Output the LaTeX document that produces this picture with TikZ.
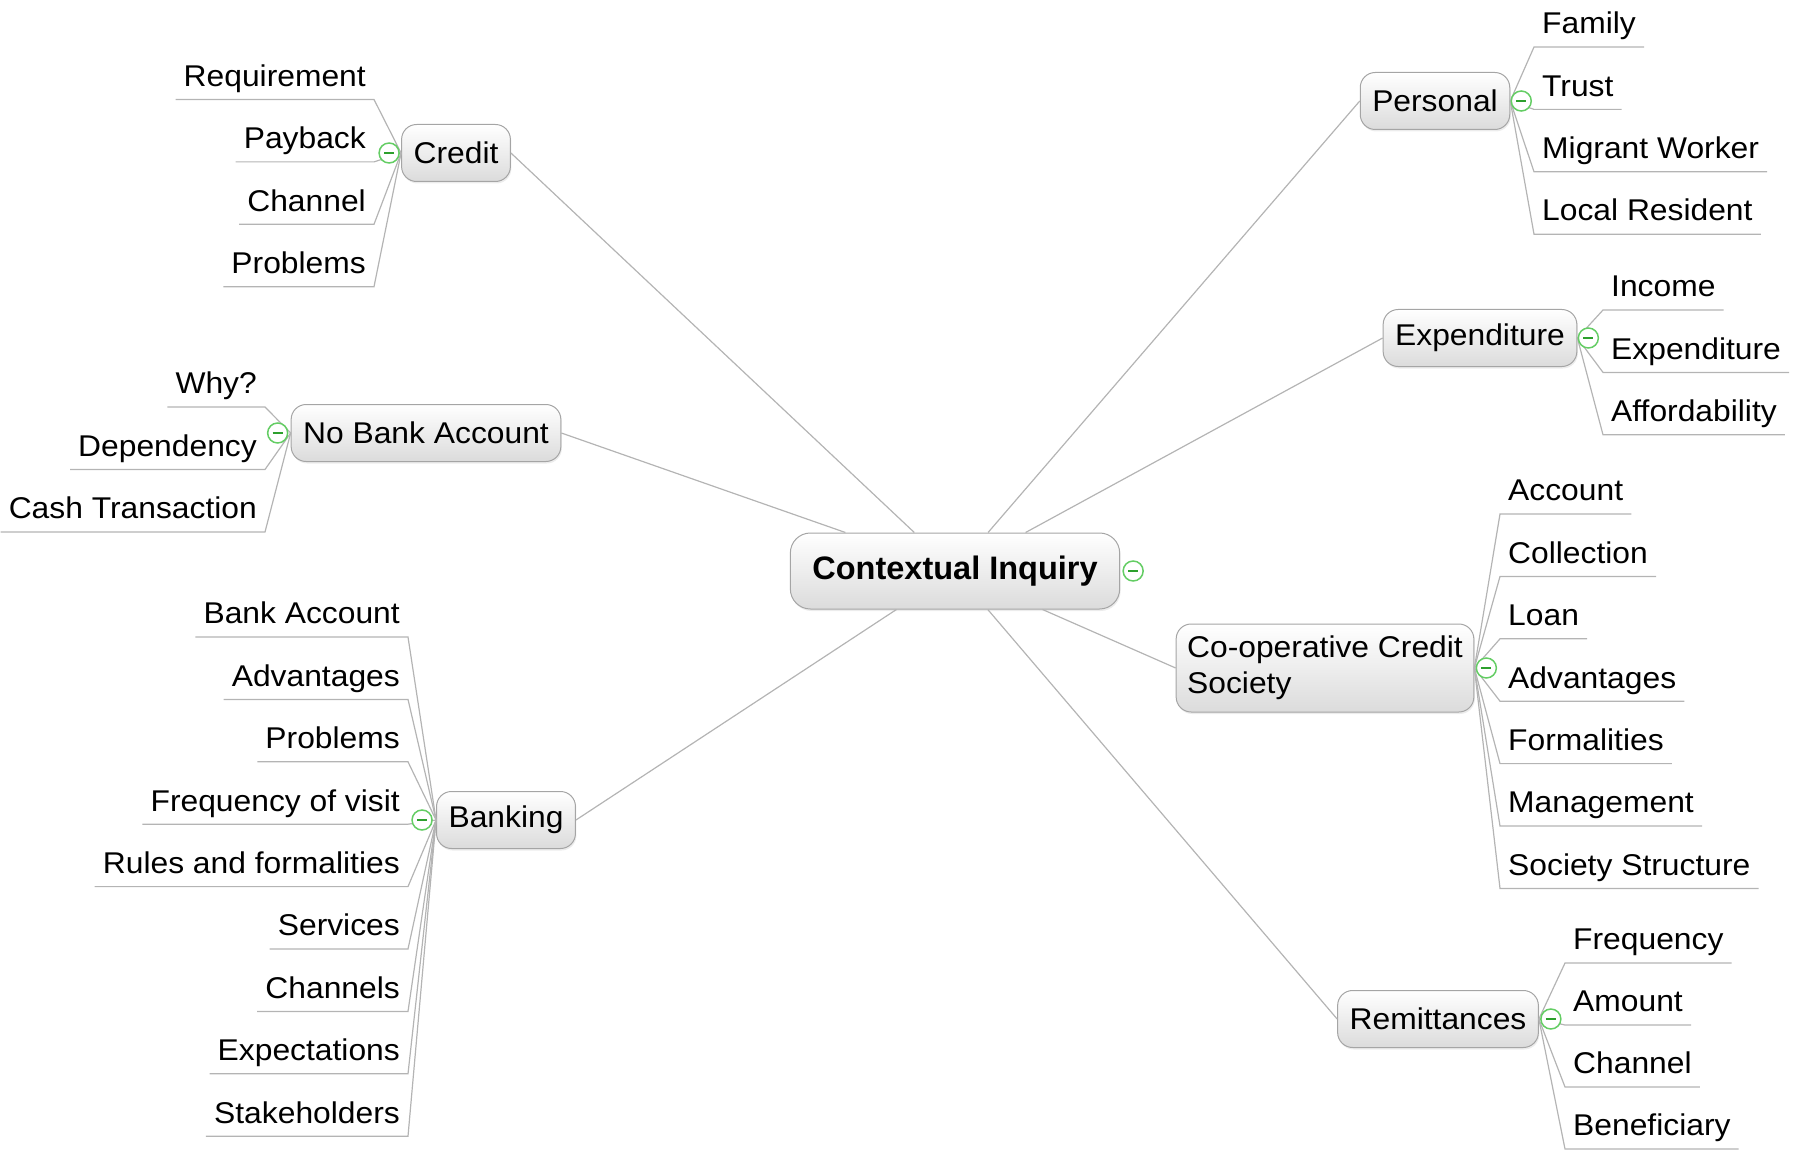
\documentclass[tikz,border=0pt]{standalone}
\usepackage{fontspec}
\setmainfont{Liberation Sans}[FakeStretch=1.06]
\newfontfamily\centralfont{Liberation Sans}
\usetikzlibrary{shadows}
\definecolor{linegray}{RGB}{180,180,180}
\definecolor{boxborder}{RGB}{165,165,165}
\definecolor{iconGreen}{RGB}{100,205,100}
\definecolor{iconDark}{RGB}{45,160,45}
\tikzset{
  topic/.style={draw=boxborder, line width=1pt, rounded corners=15pt,
    top color=white, bottom color=black!14, inner xsep=12pt, inner ysep=0pt,
    minimum height=57pt, font=\fontsize{30}{36}\selectfont,
    drop shadow={shadow xshift=1pt, shadow yshift=-2pt, opacity=0.15}},
  central/.style={topic, inner xsep=22pt, minimum height=76pt, rounded corners=20pt,
    font=\centralfont\fontsize{32.5}{38}\selectfont\bfseries},
  leaf/.style={inner xsep=8pt, inner ysep=0pt, text height=22pt, text depth=13pt,
    font=\fontsize{30}{36}\selectfont},
  conn/.style={draw=linegray, line width=1.2pt},
  collapse/.style={circle, draw=iconGreen, line width=1.5pt, fill=white,
    minimum size=20pt, inner sep=0pt,
    path picture={\draw[iconDark, line width=2.4pt]
      ([xshift=-5pt]path picture bounding box.center) --
      ([xshift=5pt]path picture bounding box.center);}},
}
\begin{document}
\begin{tikzpicture}[x=1pt, y=-1pt]
\useasboundingbox (0,0) rectangle (1794,1150);

% main topics
\node[central] (ci) at (955,571) {Contextual Inquiry};
\node[topic] (credit) at (456,153) {Credit};
\node[topic] (nba) at (426,433) {No Bank Account};
\node[topic] (banking) at (506,820) {Banking};
\node[topic] (personal) at (1435,101) {Personal};
\node[topic] (expend) at (1480,338) {Expenditure};
\node[topic, align=left, minimum height=88pt, inner xsep=11pt] (coop) at (1325,668) {Co-operative Credit\\Society};
\node[topic] (remit) at (1438,1019) {Remittances};

% main connectors
\draw[conn] (ci) -- (credit.east);
\draw[conn] (ci) -- (nba.east);
\draw[conn] (ci) -- (banking.east);
\draw[conn] (ci) -- (personal.west);
\draw[conn] (ci) -- (expend.west);
\draw[conn] (ci) -- (coop.west);
\draw[conn] (ci) -- (remit.west);

% Credit leaves
\foreach \t [count=\i] in {Requirement, Payback, Channel, Problems} {
  \node[leaf, anchor=south east] (cr\i) at (374, {99.5+62.4*(\i-1)}) {\t};
  \draw[conn] (cr\i.south west) -- (cr\i.south east) -- (credit.west);
}
% No Bank Account leaves
\foreach \t [count=\i] in {Why?, Dependency, Cash Transaction} {
  \node[leaf, anchor=south east] (nb\i) at (265, {407+62.5*(\i-1)}) {\t};
  \draw[conn] (nb\i.south west) -- (nb\i.south east) -- (nba.west);
}
% Banking leaves
\foreach \t [count=\i] in {Bank Account, Advantages, Problems, Frequency of visit, Rules and formalities, Services, Channels, Expectations, Stakeholders} {
  \node[leaf, anchor=south east] (bk\i) at (408, {637+62.4*(\i-1)}) {\t};
  \draw[conn] (bk\i.south west) -- (bk\i.south east) -- (banking.west);
}
% Personal leaves
\foreach \t [count=\i] in {Family, Trust, Migrant Worker, Local Resident} {
  \node[leaf, anchor=south west] (pe\i) at (1534, {47+62.4*(\i-1)}) {\t};
  \draw[conn] (personal.east) -- (pe\i.south west) -- (pe\i.south east);
}
% Expenditure leaves
\foreach \t [count=\i] in {Income, Expenditure, Affordability} {
  \node[leaf, anchor=south west] (ex\i) at (1603, {310+62.4*(\i-1)}) {\t};
  \draw[conn] (expend.east) -- (ex\i.south west) -- (ex\i.south east);
}
% Co-operative leaves
\foreach \t [count=\i] in {Account, Collection, Loan, Advantages, Formalities, Management, Society Structure} {
  \node[leaf, anchor=south west] (co\i) at (1500, {514+62.4*(\i-1)}) {\t};
  \draw[conn] (coop.east) -- (co\i.south west) -- (co\i.south east);
}
% Remittances leaves
\foreach \t [count=\i] in {Frequency, Amount, Channel, Beneficiary} {
  \node[leaf, anchor=south west] (re\i) at (1565, {963+62*(\i-1)}) {\t};
  \draw[conn] (remit.east) -- (re\i.south west) -- (re\i.south east);
}

% collapse icons
\node[collapse] (ci-c) at ([xshift=13pt]ci.east) {};
\node[collapse] (credit-c) at ([xshift=-12pt]credit.west) {};
\node[collapse] (nba-c) at ([xshift=-13pt]nba.west) {};
\node[collapse] (banking-c) at ([xshift=-14pt]banking.west) {};
\node[collapse] (personal-c) at ([xshift=11pt]personal.east) {};
\node[collapse] (expend-c) at ([xshift=11pt]expend.east) {};
\node[collapse] (coop-c) at ([xshift=12pt]coop.east) {};
\node[collapse] (remit-c) at ([xshift=12pt]remit.east) {};
\end{tikzpicture}
\end{document}
